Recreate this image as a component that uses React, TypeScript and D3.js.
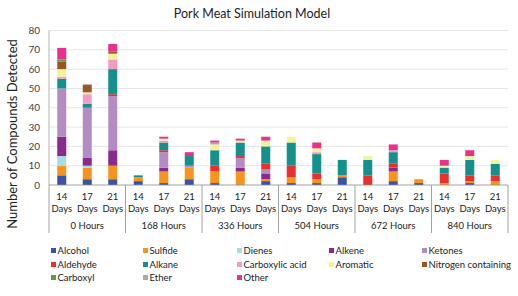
import React from "react";
import * as d3 from "d3";

const hours = ["0 Hours", "168 Hours", "336 Hours", "504 Hours", "672 Hours", "840 Hours"];
const days = ["14", "17", "21"];
const yTicks = [0, 10, 20, 30, 40, 50, 60, 70, 80];

const seriesNames = [
  "Alcohol", "Sulfide", "Dienes", "Alkene", "Ketones",
  "Aldehyde", "Alkane", "Carboxylic acid", "Aromatic", "Nitrogen containing",
  "Carboxyl", "Ether", "Other",
];
const seriesColors = [
  "#3a53a4", "#f7941d", "#a9dbe6", "#8b2a8b", "#b48cc4",
  "#e8312f", "#14918b", "#f29cc4", "#f6f29b", "#9a5628",
  "#5a9e47", "#a7a9ac", "#e9308b",
];

// 18 bars: 6 hour groups x (14, 17, 21 days)
const alcohol = [5, 3, 3, 2, 1, 3, 1, 0, 2, 1, 1, 4, 0, 2, 1, 0, 1, 0];
const sulfide = [5, 6, 7, 2, 6, 6, 6, 7, 1, 3, 2, 1, 0, 5, 2, 1, 1, 2];
const dienes = [5, 1, 0, 0, 0, 0, 0, 0, 0, 0, 0, 0, 0, 0, 0, 0, 0, 0];
const alkene = [10, 4, 8, 0, 2, 0, 0, 2, 3, 0, 0, 0, 0, 2, 0, 0, 0, 0];
const ketones = [25, 26, 28, 0, 8, 1, 0, 5, 2, 0, 0, 0, 0, 0, 0, 0, 0, 0];
const aldehyde = [0, 0, 1, 0, 1, 0, 3, 1, 3, 6, 3, 0, 5, 2, 0, 5, 3, 3];
const alkane = [5, 2, 13, 1, 4, 5, 8, 7, 9, 12, 10, 8, 8, 6, 0, 3, 8, 6];
const carboxylicAcid = [1, 5, 5, 0, 1, 0, 0, 0, 0, 0, 1, 0, 0, 1, 0, 0, 0, 0];
const aromatic = [4, 1, 3, 0, 1, 0, 3, 1, 3, 3, 2, 0, 2, 0, 0, 1, 2, 2];
const nitrogen = [4, 4, 1, 0, 0, 0, 0, 0, 0, 0, 0, 0, 0, 0, 0, 0, 0, 0];
const carboxyl = [1, 0, 0, 0, 0, 0, 0, 0, 0, 0, 0, 0, 0, 0, 0, 0, 0, 0];
const ether = [0, 0, 0, 0, 0, 0, 1, 0, 0, 0, 0, 0, 0, 0, 0, 0, 0, 0];
const other = [6, 0, 4, 0, 1, 2, 1, 1, 2, 0, 3, 0, 0, 3, 0, 3, 3, 0];

const seriesValues = [
  alcohol, sulfide, dienes, alkene, ketones, aldehyde, alkane,
  carboxylicAcid, aromatic, nitrogen, carboxyl, ether, other,
];

const W = 518, H = 296;
const left = 49, right = 508, top = 30.5, bottom = 185;
const FONT = "Lato, 'Open Sans', sans-serif";

export default function App() {
  const cats = hours.flatMap((h, gi) => days.map((d, di) => `${gi}-${di}`));
  const table = cats.map((c, i) => {
    const row: Record<string, number | string> = { cat: c };
    seriesNames.forEach((s, si) => (row[s] = seriesValues[si][i]));
    return row;
  });
  const stacked = d3.stack<any>().keys(seriesNames)(table);

  const x = d3.scaleBand<string>().domain(cats).range([left, right]).paddingInner(0).paddingOuter(0);
  const y = d3.scaleLinear().domain([0, 80]).range([bottom, top]);
  const bw = 9;
  const groupW = (right - left) / hours.length;

  const legendCols = [51, 143, 237, 329, 422];
  const legendRows = [251, 265, 278];

  return (
    <svg width={W} height={H} style={{ position: "absolute", left: 0, top: 0, background: "#fff" }}>
      <text x={252} y={17.5} textAnchor="middle" fontFamily={FONT} fontSize={12.5} fill="#222">
        Pork Meat Simulation Model
      </text>
      {yTicks.map((t) => (
        <g key={t}>
          {t > 0 && <line x1={left} x2={right} y1={y(t)} y2={y(t)} stroke="#dedede" strokeWidth={0.8} />}
          <text x={40} y={y(t) + 3.5} textAnchor="end" fontFamily={FONT} fontSize={10} fill="#444">
            {t}
          </text>
        </g>
      ))}
      <line x1={left} x2={left} y1={top} y2={bottom} stroke="#a0a0a0" strokeWidth={0.8} />
      <text
        transform={`translate(17,${134}) rotate(-90)`}
        textAnchor="middle"
        fontFamily={FONT}
        fontSize={13}
        fill="#222"
      >
        Number of Compounds Detected
      </text>
      {stacked.map((layer, si) => (
        <g key={seriesNames[si]} fill={seriesColors[si]}>
          {layer.map((d, i) =>
            d[1] - d[0] > 0 ? (
              <rect
                key={i}
                x={(x(cats[i]) as number) + x.bandwidth() / 2 - bw / 2}
                y={y(d[1])}
                width={bw}
                height={y(d[0]) - y(d[1])}
              />
            ) : null
          )}
        </g>
      ))}
      <line x1={left} x2={right} y1={bottom} y2={bottom} stroke="#8a8a8a" strokeWidth={0.8} />
      {hours.map((h, gi) => (
        <line
          key={h}
          x1={left + gi * groupW}
          x2={left + gi * groupW}
          y1={bottom}
          y2={233}
          stroke="#8a8a8a"
          strokeWidth={0.8}
        />
      ))}
      <line x1={right} x2={right} y1={bottom} y2={233} stroke="#8a8a8a" strokeWidth={0.8} />
      {cats.map((c, i) => {
        const cx = (x(c) as number) + x.bandwidth() / 2;
        return (
          <g key={c} fontFamily={FONT} fontSize={9.5} fill="#222" textAnchor="middle">
            <text x={cx} y={200}>{days[i % 3]}</text>
            <text x={cx} y={212}>Days</text>
          </g>
        );
      })}
      {hours.map((h, gi) => (
        <text
          key={h}
          x={left + (gi + 0.5) * groupW}
          y={229}
          textAnchor="middle"
          fontFamily={FONT}
          fontSize={9.5}
          fill="#222"
        >
          {h}
        </text>
      ))}
      {seriesNames.map((s, si) => {
        const col = si % 5;
        const row = Math.floor(si / 5);
        const lx = legendCols[col];
        const ly = legendRows[row];
        return (
          <g key={s}>
            <rect x={lx} y={ly - 3} width={5} height={5} fill={seriesColors[si]} />
            <text x={lx + 6.5} y={ly + 3} fontFamily={FONT} fontSize={9.5} fill="#222">
              {s}
            </text>
          </g>
        );
      })}
    </svg>
  );
}
